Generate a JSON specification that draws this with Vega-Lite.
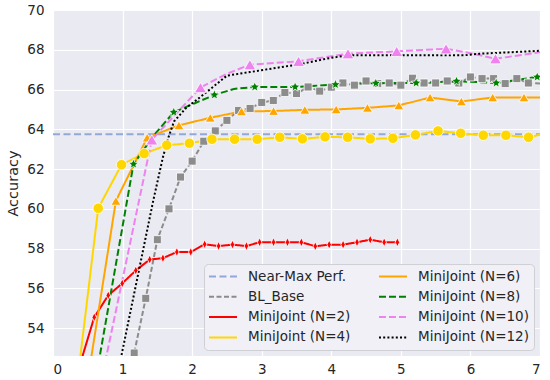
{
  "$schema": "https://vega.github.io/schema/vega-lite/v6.json",
  "width": 487,
  "height": 346,
  "autosize": {"type": "none"},
  "padding": {"left": 53, "top": 10, "right": 10, "bottom": 24},
  "background": "white",
  "config": {
    "view": {"fill": "#eaeaf2", "stroke": null},
    "font": "DejaVu Sans",
    "axis": {
      "domain": false, "ticks": false, "tickSize": 0,
      "gridColor": "white", "gridWidth": 1.2, "gridOpacity": 1,
      "labelFont": "DejaVu Sans", "labelFontSize": 13.5, "labelColor": "#262626",
      "titleFont": "DejaVu Sans", "titleFontSize": 14.5, "titleFontWeight": "normal", "titleColor": "#262626"
    }
  },
  "datasets": {
    "curves": [
      {"series": "Near-Max Perf.", "x": 0, "y": 63.75},
      {"series": "Near-Max Perf.", "x": 7, "y": 63.75},
      {"series": "BL_Base", "x": 1.0, "y": 50.2},
      {"series": "BL_Base", "x": 1.167, "y": 52.75},
      {"series": "BL_Base", "x": 1.333, "y": 55.5},
      {"series": "BL_Base", "x": 1.5, "y": 58.45},
      {"series": "BL_Base", "x": 1.667, "y": 60.0},
      {"series": "BL_Base", "x": 1.833, "y": 61.6},
      {"series": "BL_Base", "x": 2.0, "y": 62.4},
      {"series": "BL_Base", "x": 2.167, "y": 63.4},
      {"series": "BL_Base", "x": 2.333, "y": 63.92},
      {"series": "BL_Base", "x": 2.5, "y": 64.45},
      {"series": "BL_Base", "x": 2.667, "y": 64.95},
      {"series": "BL_Base", "x": 2.833, "y": 65.05},
      {"series": "BL_Base", "x": 3.0, "y": 65.35},
      {"series": "BL_Base", "x": 3.167, "y": 65.45},
      {"series": "BL_Base", "x": 3.333, "y": 65.85},
      {"series": "BL_Base", "x": 3.5, "y": 65.8},
      {"series": "BL_Base", "x": 3.667, "y": 66.13},
      {"series": "BL_Base", "x": 3.833, "y": 65.92},
      {"series": "BL_Base", "x": 4.0, "y": 66.12},
      {"series": "BL_Base", "x": 4.167, "y": 66.33},
      {"series": "BL_Base", "x": 4.333, "y": 66.22},
      {"series": "BL_Base", "x": 4.5, "y": 66.43},
      {"series": "BL_Base", "x": 4.667, "y": 66.3},
      {"series": "BL_Base", "x": 4.833, "y": 66.33},
      {"series": "BL_Base", "x": 5.0, "y": 66.22},
      {"series": "BL_Base", "x": 5.167, "y": 66.57},
      {"series": "BL_Base", "x": 5.333, "y": 66.33},
      {"series": "BL_Base", "x": 5.5, "y": 66.33},
      {"series": "BL_Base", "x": 5.667, "y": 66.43},
      {"series": "BL_Base", "x": 5.833, "y": 66.33},
      {"series": "BL_Base", "x": 6.0, "y": 66.63},
      {"series": "BL_Base", "x": 6.167, "y": 66.55},
      {"series": "BL_Base", "x": 6.333, "y": 66.55},
      {"series": "BL_Base", "x": 6.5, "y": 66.3},
      {"series": "BL_Base", "x": 6.667, "y": 66.55},
      {"series": "BL_Base", "x": 6.833, "y": 66.33},
      {"series": "BL_Base", "x": 7.0, "y": 66.3},
      {"series": "MiniJoint (N=2)", "x": 0.39, "y": 52.2},
      {"series": "MiniJoint (N=2)", "x": 0.593, "y": 54.55},
      {"series": "MiniJoint (N=2)", "x": 0.794, "y": 55.65},
      {"series": "MiniJoint (N=2)", "x": 0.995, "y": 56.25},
      {"series": "MiniJoint (N=2)", "x": 1.19, "y": 56.9},
      {"series": "MiniJoint (N=2)", "x": 1.39, "y": 57.45},
      {"series": "MiniJoint (N=2)", "x": 1.58, "y": 57.52},
      {"series": "MiniJoint (N=2)", "x": 1.78, "y": 57.83},
      {"series": "MiniJoint (N=2)", "x": 1.98, "y": 57.83},
      {"series": "MiniJoint (N=2)", "x": 2.18, "y": 58.22},
      {"series": "MiniJoint (N=2)", "x": 2.38, "y": 58.13},
      {"series": "MiniJoint (N=2)", "x": 2.58, "y": 58.2},
      {"series": "MiniJoint (N=2)", "x": 2.78, "y": 58.13},
      {"series": "MiniJoint (N=2)", "x": 2.97, "y": 58.32},
      {"series": "MiniJoint (N=2)", "x": 3.17, "y": 58.32},
      {"series": "MiniJoint (N=2)", "x": 3.37, "y": 58.32},
      {"series": "MiniJoint (N=2)", "x": 3.57, "y": 58.32},
      {"series": "MiniJoint (N=2)", "x": 3.77, "y": 58.12},
      {"series": "MiniJoint (N=2)", "x": 3.97, "y": 58.2},
      {"series": "MiniJoint (N=2)", "x": 4.17, "y": 58.2},
      {"series": "MiniJoint (N=2)", "x": 4.37, "y": 58.32},
      {"series": "MiniJoint (N=2)", "x": 4.56, "y": 58.45},
      {"series": "MiniJoint (N=2)", "x": 4.76, "y": 58.32},
      {"series": "MiniJoint (N=2)", "x": 4.95, "y": 58.32},
      {"series": "MiniJoint (N=4)", "x": 0.325, "y": 50.6},
      {"series": "MiniJoint (N=4)", "x": 0.65, "y": 60.03},
      {"series": "MiniJoint (N=4)", "x": 0.985, "y": 62.22},
      {"series": "MiniJoint (N=4)", "x": 1.31, "y": 62.78},
      {"series": "MiniJoint (N=4)", "x": 1.635, "y": 63.2},
      {"series": "MiniJoint (N=4)", "x": 1.96, "y": 63.3},
      {"series": "MiniJoint (N=4)", "x": 2.285, "y": 63.5},
      {"series": "MiniJoint (N=4)", "x": 2.61, "y": 63.5},
      {"series": "MiniJoint (N=4)", "x": 2.935, "y": 63.5},
      {"series": "MiniJoint (N=4)", "x": 3.26, "y": 63.6},
      {"series": "MiniJoint (N=4)", "x": 3.585, "y": 63.52},
      {"series": "MiniJoint (N=4)", "x": 3.91, "y": 63.62},
      {"series": "MiniJoint (N=4)", "x": 4.235, "y": 63.6},
      {"series": "MiniJoint (N=4)", "x": 4.56, "y": 63.52},
      {"series": "MiniJoint (N=4)", "x": 4.885, "y": 63.55},
      {"series": "MiniJoint (N=4)", "x": 5.21, "y": 63.72},
      {"series": "MiniJoint (N=4)", "x": 5.535, "y": 63.92},
      {"series": "MiniJoint (N=4)", "x": 5.86, "y": 63.8},
      {"series": "MiniJoint (N=4)", "x": 6.185, "y": 63.7},
      {"series": "MiniJoint (N=4)", "x": 6.51, "y": 63.7},
      {"series": "MiniJoint (N=4)", "x": 6.835, "y": 63.6},
      {"series": "MiniJoint (N=4)", "x": 7.16, "y": 63.86},
      {"series": "MiniJoint (N=6)", "x": 0.454, "y": 50.4},
      {"series": "MiniJoint (N=6)", "x": 0.904, "y": 60.4},
      {"series": "MiniJoint (N=6)", "x": 1.354, "y": 63.58},
      {"series": "MiniJoint (N=6)", "x": 1.81, "y": 64.2},
      {"series": "MiniJoint (N=6)", "x": 2.26, "y": 64.58},
      {"series": "MiniJoint (N=6)", "x": 2.71, "y": 64.9},
      {"series": "MiniJoint (N=6)", "x": 3.17, "y": 64.92},
      {"series": "MiniJoint (N=6)", "x": 3.62, "y": 64.98},
      {"series": "MiniJoint (N=6)", "x": 4.07, "y": 65.0},
      {"series": "MiniJoint (N=6)", "x": 4.52, "y": 65.08},
      {"series": "MiniJoint (N=6)", "x": 4.97, "y": 65.2},
      {"series": "MiniJoint (N=6)", "x": 5.42, "y": 65.6},
      {"series": "MiniJoint (N=6)", "x": 5.87, "y": 65.4},
      {"series": "MiniJoint (N=6)", "x": 6.32, "y": 65.6},
      {"series": "MiniJoint (N=6)", "x": 6.77, "y": 65.6},
      {"series": "MiniJoint (N=6)", "x": 7.22, "y": 65.6},
      {"series": "MiniJoint (N=8)", "x": 0.577, "y": 50.7},
      {"series": "MiniJoint (N=8)", "x": 1.157, "y": 62.25},
      {"series": "MiniJoint (N=8)", "x": 1.45, "y": 63.7},
      {"series": "MiniJoint (N=8)", "x": 1.736, "y": 64.86},
      {"series": "MiniJoint (N=8)", "x": 2.03, "y": 65.3},
      {"series": "MiniJoint (N=8)", "x": 2.32, "y": 65.73},
      {"series": "MiniJoint (N=8)", "x": 2.6, "y": 66.03},
      {"series": "MiniJoint (N=8)", "x": 2.9, "y": 66.13},
      {"series": "MiniJoint (N=8)", "x": 3.48, "y": 66.13},
      {"series": "MiniJoint (N=8)", "x": 4.06, "y": 66.25},
      {"series": "MiniJoint (N=8)", "x": 4.64, "y": 66.32},
      {"series": "MiniJoint (N=8)", "x": 5.22, "y": 66.33},
      {"series": "MiniJoint (N=8)", "x": 5.8, "y": 66.42},
      {"series": "MiniJoint (N=8)", "x": 6.37, "y": 66.33},
      {"series": "MiniJoint (N=8)", "x": 6.96, "y": 66.63},
      {"series": "MiniJoint (N=10)", "x": 0.72, "y": 51.8},
      {"series": "MiniJoint (N=10)", "x": 1.42, "y": 63.47},
      {"series": "MiniJoint (N=10)", "x": 2.12, "y": 66.1},
      {"series": "MiniJoint (N=10)", "x": 2.49, "y": 66.78},
      {"series": "MiniJoint (N=10)", "x": 2.83, "y": 67.25},
      {"series": "MiniJoint (N=10)", "x": 3.53, "y": 67.42},
      {"series": "MiniJoint (N=10)", "x": 4.24, "y": 67.8},
      {"series": "MiniJoint (N=10)", "x": 4.94, "y": 67.92},
      {"series": "MiniJoint (N=10)", "x": 5.65, "y": 68.05},
      {"series": "MiniJoint (N=10)", "x": 5.98, "y": 67.84},
      {"series": "MiniJoint (N=10)", "x": 6.36, "y": 67.55},
      {"series": "MiniJoint (N=10)", "x": 7.06, "y": 67.9},
      {"series": "MiniJoint (N=12)", "x": 0.9, "y": 51.2},
      {"series": "MiniJoint (N=12)", "x": 1.0, "y": 52.9},
      {"series": "MiniJoint (N=12)", "x": 1.44, "y": 60.4},
      {"series": "MiniJoint (N=12)", "x": 1.58, "y": 62.6},
      {"series": "MiniJoint (N=12)", "x": 1.66, "y": 63.6},
      {"series": "MiniJoint (N=12)", "x": 1.74, "y": 64.4},
      {"series": "MiniJoint (N=12)", "x": 1.92, "y": 65.1},
      {"series": "MiniJoint (N=12)", "x": 2.11, "y": 65.6},
      {"series": "MiniJoint (N=12)", "x": 2.3, "y": 66.13},
      {"series": "MiniJoint (N=12)", "x": 2.5, "y": 66.7},
      {"series": "MiniJoint (N=12)", "x": 2.83, "y": 66.88},
      {"series": "MiniJoint (N=12)", "x": 3.54, "y": 67.27},
      {"series": "MiniJoint (N=12)", "x": 4.0, "y": 67.6},
      {"series": "MiniJoint (N=12)", "x": 4.25, "y": 67.72},
      {"series": "MiniJoint (N=12)", "x": 5.9, "y": 67.72},
      {"series": "MiniJoint (N=12)", "x": 6.13, "y": 67.8},
      {"series": "MiniJoint (N=12)", "x": 6.6, "y": 67.88},
      {"series": "MiniJoint (N=12)", "x": 7.0, "y": 67.95}
    ],
    "markers": [
      {"series": "BL_Base", "x": 1.167, "y": 52.75},
      {"series": "BL_Base", "x": 1.333, "y": 55.5},
      {"series": "BL_Base", "x": 1.5, "y": 58.45},
      {"series": "BL_Base", "x": 1.667, "y": 60.0},
      {"series": "BL_Base", "x": 1.833, "y": 61.6},
      {"series": "BL_Base", "x": 2.0, "y": 62.4},
      {"series": "BL_Base", "x": 2.167, "y": 63.4},
      {"series": "BL_Base", "x": 2.333, "y": 63.92},
      {"series": "BL_Base", "x": 2.5, "y": 64.45},
      {"series": "BL_Base", "x": 2.667, "y": 64.95},
      {"series": "BL_Base", "x": 2.833, "y": 65.05},
      {"series": "BL_Base", "x": 3.0, "y": 65.35},
      {"series": "BL_Base", "x": 3.167, "y": 65.45},
      {"series": "BL_Base", "x": 3.333, "y": 65.85},
      {"series": "BL_Base", "x": 3.5, "y": 65.8},
      {"series": "BL_Base", "x": 3.667, "y": 66.13},
      {"series": "BL_Base", "x": 3.833, "y": 65.92},
      {"series": "BL_Base", "x": 4.0, "y": 66.12},
      {"series": "BL_Base", "x": 4.167, "y": 66.33},
      {"series": "BL_Base", "x": 4.333, "y": 66.22},
      {"series": "BL_Base", "x": 4.5, "y": 66.43},
      {"series": "BL_Base", "x": 4.667, "y": 66.3},
      {"series": "BL_Base", "x": 4.833, "y": 66.33},
      {"series": "BL_Base", "x": 5.0, "y": 66.22},
      {"series": "BL_Base", "x": 5.167, "y": 66.57},
      {"series": "BL_Base", "x": 5.333, "y": 66.33},
      {"series": "BL_Base", "x": 5.5, "y": 66.33},
      {"series": "BL_Base", "x": 5.667, "y": 66.43},
      {"series": "BL_Base", "x": 5.833, "y": 66.33},
      {"series": "BL_Base", "x": 6.0, "y": 66.63},
      {"series": "BL_Base", "x": 6.167, "y": 66.55},
      {"series": "BL_Base", "x": 6.333, "y": 66.55},
      {"series": "BL_Base", "x": 6.5, "y": 66.3},
      {"series": "BL_Base", "x": 6.667, "y": 66.55},
      {"series": "BL_Base", "x": 6.833, "y": 66.33},
      {"series": "MiniJoint (N=2)", "x": 0.593, "y": 54.55},
      {"series": "MiniJoint (N=2)", "x": 0.794, "y": 55.65},
      {"series": "MiniJoint (N=2)", "x": 0.995, "y": 56.25},
      {"series": "MiniJoint (N=2)", "x": 1.19, "y": 56.9},
      {"series": "MiniJoint (N=2)", "x": 1.39, "y": 57.45},
      {"series": "MiniJoint (N=2)", "x": 1.58, "y": 57.52},
      {"series": "MiniJoint (N=2)", "x": 1.78, "y": 57.83},
      {"series": "MiniJoint (N=2)", "x": 1.98, "y": 57.83},
      {"series": "MiniJoint (N=2)", "x": 2.18, "y": 58.22},
      {"series": "MiniJoint (N=2)", "x": 2.38, "y": 58.13},
      {"series": "MiniJoint (N=2)", "x": 2.58, "y": 58.2},
      {"series": "MiniJoint (N=2)", "x": 2.78, "y": 58.13},
      {"series": "MiniJoint (N=2)", "x": 2.97, "y": 58.32},
      {"series": "MiniJoint (N=2)", "x": 3.17, "y": 58.32},
      {"series": "MiniJoint (N=2)", "x": 3.37, "y": 58.32},
      {"series": "MiniJoint (N=2)", "x": 3.57, "y": 58.32},
      {"series": "MiniJoint (N=2)", "x": 3.77, "y": 58.12},
      {"series": "MiniJoint (N=2)", "x": 3.97, "y": 58.2},
      {"series": "MiniJoint (N=2)", "x": 4.17, "y": 58.2},
      {"series": "MiniJoint (N=2)", "x": 4.37, "y": 58.32},
      {"series": "MiniJoint (N=2)", "x": 4.56, "y": 58.45},
      {"series": "MiniJoint (N=2)", "x": 4.76, "y": 58.32},
      {"series": "MiniJoint (N=2)", "x": 4.95, "y": 58.32},
      {"series": "MiniJoint (N=4)", "x": 0.65, "y": 60.03},
      {"series": "MiniJoint (N=4)", "x": 0.985, "y": 62.22},
      {"series": "MiniJoint (N=4)", "x": 1.31, "y": 62.78},
      {"series": "MiniJoint (N=4)", "x": 1.635, "y": 63.2},
      {"series": "MiniJoint (N=4)", "x": 1.96, "y": 63.3},
      {"series": "MiniJoint (N=4)", "x": 2.285, "y": 63.5},
      {"series": "MiniJoint (N=4)", "x": 2.61, "y": 63.5},
      {"series": "MiniJoint (N=4)", "x": 2.935, "y": 63.5},
      {"series": "MiniJoint (N=4)", "x": 3.26, "y": 63.6},
      {"series": "MiniJoint (N=4)", "x": 3.585, "y": 63.52},
      {"series": "MiniJoint (N=4)", "x": 3.91, "y": 63.62},
      {"series": "MiniJoint (N=4)", "x": 4.235, "y": 63.6},
      {"series": "MiniJoint (N=4)", "x": 4.56, "y": 63.52},
      {"series": "MiniJoint (N=4)", "x": 4.885, "y": 63.55},
      {"series": "MiniJoint (N=4)", "x": 5.21, "y": 63.72},
      {"series": "MiniJoint (N=4)", "x": 5.535, "y": 63.92},
      {"series": "MiniJoint (N=4)", "x": 5.86, "y": 63.8},
      {"series": "MiniJoint (N=4)", "x": 6.185, "y": 63.7},
      {"series": "MiniJoint (N=4)", "x": 6.51, "y": 63.7},
      {"series": "MiniJoint (N=4)", "x": 6.835, "y": 63.6},
      {"series": "MiniJoint (N=6)", "x": 0.904, "y": 60.4},
      {"series": "MiniJoint (N=6)", "x": 1.354, "y": 63.58},
      {"series": "MiniJoint (N=6)", "x": 1.81, "y": 64.2},
      {"series": "MiniJoint (N=6)", "x": 2.26, "y": 64.58},
      {"series": "MiniJoint (N=6)", "x": 2.71, "y": 64.9},
      {"series": "MiniJoint (N=6)", "x": 3.17, "y": 64.92},
      {"series": "MiniJoint (N=6)", "x": 3.62, "y": 64.98},
      {"series": "MiniJoint (N=6)", "x": 4.07, "y": 65.0},
      {"series": "MiniJoint (N=6)", "x": 4.52, "y": 65.08},
      {"series": "MiniJoint (N=6)", "x": 4.97, "y": 65.2},
      {"series": "MiniJoint (N=6)", "x": 5.42, "y": 65.6},
      {"series": "MiniJoint (N=6)", "x": 5.87, "y": 65.4},
      {"series": "MiniJoint (N=6)", "x": 6.32, "y": 65.6},
      {"series": "MiniJoint (N=6)", "x": 6.77, "y": 65.6},
      {"series": "MiniJoint (N=8)", "x": 1.157, "y": 62.25},
      {"series": "MiniJoint (N=8)", "x": 1.736, "y": 64.86},
      {"series": "MiniJoint (N=8)", "x": 2.32, "y": 65.73},
      {"series": "MiniJoint (N=8)", "x": 2.9, "y": 66.13},
      {"series": "MiniJoint (N=8)", "x": 3.48, "y": 66.13},
      {"series": "MiniJoint (N=8)", "x": 4.06, "y": 66.25},
      {"series": "MiniJoint (N=8)", "x": 4.64, "y": 66.32},
      {"series": "MiniJoint (N=8)", "x": 5.22, "y": 66.33},
      {"series": "MiniJoint (N=8)", "x": 5.8, "y": 66.42},
      {"series": "MiniJoint (N=8)", "x": 6.37, "y": 66.33},
      {"series": "MiniJoint (N=8)", "x": 6.96, "y": 66.63},
      {"series": "MiniJoint (N=10)", "x": 1.42, "y": 63.47},
      {"series": "MiniJoint (N=10)", "x": 2.12, "y": 66.1},
      {"series": "MiniJoint (N=10)", "x": 2.83, "y": 67.25},
      {"series": "MiniJoint (N=10)", "x": 3.53, "y": 67.42},
      {"series": "MiniJoint (N=10)", "x": 4.24, "y": 67.8},
      {"series": "MiniJoint (N=10)", "x": 4.94, "y": 67.92},
      {"series": "MiniJoint (N=10)", "x": 5.65, "y": 68.05},
      {"series": "MiniJoint (N=10)", "x": 6.36, "y": 67.55}
    ]
  },
  "layer": [
    {
      "data": {"name": "curves"},
      "transform": [{"filter": "datum.series === 'Near-Max Perf.'"}],
      "mark": {"type": "line", "clip": true, "strokeWidth": 2},
      "encoding": {
        "x": {"field": "x", "type": "quantitative",
              "scale": {"domain": [0, 7], "nice": false, "zero": false},
              "axis": {"values": [0, 1, 2, 3, 4, 5, 6, 7], "format": "d", "title": null, "labelPadding": 6}},
        "y": {"field": "y", "type": "quantitative",
              "scale": {"domain": [52.6, 70], "nice": false, "zero": false},
              "axis": {"values": [54, 56, 58, 60, 62, 64, 66, 68, 70], "format": "d", "title": "Accuracy", "labelPadding": 9, "titlePadding": 6}},
        "color": {
          "field": "series", "type": "nominal",
          "scale": {
            "domain": ["Near-Max Perf.", "BL_Base", "MiniJoint (N=2)", "MiniJoint (N=4)", "MiniJoint (N=6)", "MiniJoint (N=8)", "MiniJoint (N=10)", "MiniJoint (N=12)"],
            "range": ["#92a8d8", "#8c8c8c", "#ff0000", "#ffd700", "#ffa500", "#008000", "#ee82ee", "#000000"]
          },
          "legend": {
            "title": null,
            "orient": "bottom-right",
            "offset": 6,
            "columns": 2,
            "columnPadding": 28,
            "rowPadding": 5.3,
            "padding": 5,
            "symbolSize": 784,
            "clipHeight": 15,
            "symbolOffset": -1,
            "labelOffset": 10,
            "symbolStrokeWidth": 2,
            "labelFont": "DejaVu Sans",
            "labelFontSize": 13.5,
            "labelColor": "#262626",
            "fillColor": "#f0f0f6",
            "strokeColor": "#cfcfd6",
            "cornerRadius": 4
          }
        },
        "strokeDash": {
          "field": "series", "type": "nominal",
          "scale": {
            "domain": ["Near-Max Perf.", "BL_Base", "MiniJoint (N=2)", "MiniJoint (N=4)", "MiniJoint (N=6)", "MiniJoint (N=8)", "MiniJoint (N=10)", "MiniJoint (N=12)"],
            "range": [[7, 3.5], [5, 2.5], [1, 0], [1, 0], [1, 0], [7, 3], [7, 3], [2, 2.2]]
          },
          "legend": null
        }
      }
    },
    {
      "data": {"name": "curves"},
      "transform": [{"filter": "datum.series !== 'Near-Max Perf.'"}],
      "mark": {"type": "line", "clip": true, "strokeWidth": 2},
      "encoding": {
        "x": {"field": "x", "type": "quantitative"},
        "y": {"field": "y", "type": "quantitative"},
        "color": {"field": "series", "type": "nominal", "legend": null},
        "strokeDash": {"field": "series", "type": "nominal", "legend": null}
      }
    },
    {
      "data": {"name": "markers"},
      "transform": [{"filter": "datum.series === 'BL_Base'"}],
      "mark": {"type": "point", "filled": true, "clip": true, "shape": "square", "size": 64, "color": "#8c8c8c", "stroke": "white", "strokeWidth": 0.8, "opacity": 1},
      "encoding": {"x": {"field": "x", "type": "quantitative"}, "y": {"field": "y", "type": "quantitative"}}
    },
    {
      "data": {"name": "markers"},
      "transform": [{"filter": "datum.series === 'MiniJoint (N=2)'"}],
      "mark": {"type": "point", "filled": true, "clip": true, "shape": "M0,-1L0.5,0L0,1L-0.5,0Z", "size": 80, "color": "#ff0000", "stroke": "white", "strokeWidth": 0.8, "opacity": 1},
      "encoding": {"x": {"field": "x", "type": "quantitative"}, "y": {"field": "y", "type": "quantitative"}}
    },
    {
      "data": {"name": "markers"},
      "transform": [{"filter": "datum.series === 'MiniJoint (N=4)'"}],
      "mark": {"type": "point", "filled": true, "clip": true, "shape": "circle", "size": 110, "color": "#ffd700", "stroke": "white", "strokeWidth": 0.8, "opacity": 1},
      "encoding": {"x": {"field": "x", "type": "quantitative"}, "y": {"field": "y", "type": "quantitative"}}
    },
    {
      "data": {"name": "markers"},
      "transform": [{"filter": "datum.series === 'MiniJoint (N=6)'"}],
      "mark": {"type": "point", "filled": true, "clip": true, "shape": "triangle-up", "size": 100, "color": "#ffa500", "stroke": "white", "strokeWidth": 0.8, "opacity": 1},
      "encoding": {"x": {"field": "x", "type": "quantitative"}, "y": {"field": "y", "type": "quantitative"}}
    },
    {
      "data": {"name": "markers"},
      "transform": [{"filter": "datum.series === 'MiniJoint (N=8)'"}],
      "mark": {"type": "point", "filled": true, "clip": true, "shape": "M0,-1L0.265,-0.364L0.951,-0.309L0.428,0.139L0.588,0.809L0,0.45L-0.588,0.809L-0.428,0.139L-0.951,-0.309L-0.265,-0.364Z", "size": 110, "color": "#008000", "stroke": "white", "strokeWidth": 0.8, "opacity": 1},
      "encoding": {"x": {"field": "x", "type": "quantitative"}, "y": {"field": "y", "type": "quantitative"}}
    },
    {
      "data": {"name": "markers"},
      "transform": [{"filter": "datum.series === 'MiniJoint (N=10)'"}],
      "mark": {"type": "point", "filled": true, "clip": true, "shape": "triangle-up", "size": 140, "color": "#ee82ee", "stroke": "white", "strokeWidth": 0.8, "opacity": 1},
      "encoding": {"x": {"field": "x", "type": "quantitative"}, "y": {"field": "y", "type": "quantitative"}}
    }
  ]
}
